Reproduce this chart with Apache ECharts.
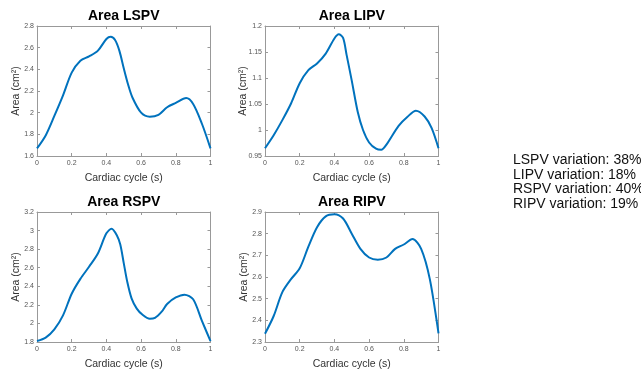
<!DOCTYPE html>
<html>
<head>
<meta charset="utf-8">
<script src="https://cdn.jsdelivr.net/npm/echarts@6/dist/echarts.min.js"></script>
<style>html,body{margin:0;padding:0;background:#fff;}#c{width:641px;height:371px;}</style>
</head>
<body>
<div id="c"></div>
<script>
// ---- data ----
const titles = ['Area LSPV', 'Area LIPV', 'Area RSPV', 'Area RIPV'];
const xLSPV = [0,0.05,0.1,0.15,0.2,0.25,0.3,0.35,0.4,0.425,0.45,0.475,0.5,0.525,0.55,0.6,0.65,0.7,0.75,0.8,0.86,0.9,0.95,1];
const yLSPV = [1.67,1.79,1.97,2.16,2.37,2.48,2.52,2.57,2.68,2.70,2.67,2.57,2.41,2.26,2.14,2.00,1.963,1.98,2.05,2.09,2.135,2.08,1.90,1.67];
const xLIPV = [0,0.05,0.1,0.15,0.2,0.25,0.3,0.35,0.4,0.425,0.45,0.47,0.5,0.535,0.565,0.6,0.64,0.67,0.7,0.77,0.82,0.87,0.92,0.96,1];
const yLIPV = [0.965,0.990,1.019,1.051,1.09,1.115,1.128,1.147,1.176,1.184,1.177,1.145,1.095,1.034,1.0,0.976,0.964,0.962,0.972,1.008,1.025,1.037,1.026,1.004,0.965];
const xRSPV = [0,0.05,0.1,0.15,0.2,0.25,0.3,0.35,0.4,0.43,0.46,0.48,0.5,0.52,0.545,0.575,0.61,0.65,0.68,0.72,0.75,0.8,0.85,0.9,0.95,1];
const yRSPV = [1.81,1.847,1.936,2.087,2.32,2.48,2.61,2.75,2.97,3.02,2.95,2.85,2.65,2.45,2.27,2.16,2.09,2.05,2.06,2.13,2.21,2.28,2.31,2.26,2.03,1.81];
const xRIPV = [0,0.05,0.1,0.15,0.2,0.25,0.3,0.35,0.4,0.45,0.5,0.55,0.6,0.65,0.7,0.75,0.8,0.85,0.9,0.95,1];
const yRIPV = [2.338,2.42,2.53,2.59,2.64,2.74,2.83,2.88,2.89,2.87,2.80,2.73,2.69,2.68,2.69,2.73,2.75,2.775,2.73,2.59,2.34];
const yMin = [1.6, 0.95, 1.8, 2.3];
const yMax = [2.8, 1.2, 3.2, 2.9];
const yStep = [0.2, 0.05, 0.2, 0.1];
const xTicks = [0, 1, 0.2];
const xName = 'Cardiac cycle (s)';
const yName = 'Area (cm²)';
const notes = ['LSPV variation: 38%', 'LIPV variation: 18%', 'RSPV variation: 40%', 'RIPV variation: 19%'];

const xsAll = [xLSPV, xLIPV, xRSPV, xRIPV];
const ysAll = [yLSPV, yLIPV, yRSPV, yRIPV];

// ---- layout ----
const FONT = "'Liberation Sans', Arial, Helvetica, sans-serif";
const boxes = [
  {left: 37, top: 26, width: 173.5, height: 130, yGap: 15},
  {left: 265, top: 26, width: 173.5, height: 130, yGap: 16.5},
  {left: 37, top: 212, width: 173.5, height: 130, yGap: 15},
  {left: 265, top: 212, width: 173.5, height: 130, yGap: 15.5}
];
const axisCol = '#999999';
const lblCol = '#555555';

const grid = [], xAxis = [], yAxis = [], series = [], graphic = [];
boxes.forEach((b, i) => {
  grid.push({left: b.left, top: b.top, width: b.width, height: b.height, containLabel: false});
  const common = {
    axisLine: {show: true, onZero: false, lineStyle: {color: axisCol, width: 1}},
    axisTick: {show: true, inside: true, length: 3, lineStyle: {color: axisCol}},
    splitLine: {show: false}
  };
  xAxis.push(Object.assign({}, common, {
    type: 'value', gridIndex: i, position: 'bottom', min: xTicks[0], max: xTicks[1], interval: xTicks[2],
    axisLabel: {show: true, color: lblCol, fontSize: 7, fontFamily: FONT, margin: 4},
    name: xName, nameLocation: 'middle', nameGap: 16.5, nameMoveOverlap: false,
    nameTextStyle: {color: '#333', fontSize: 10.5, fontFamily: FONT}
  }));
  xAxis.push(Object.assign({}, common, {
    type: 'value', gridIndex: i, position: 'top', min: xTicks[0], max: xTicks[1], interval: xTicks[2],
    axisLabel: {show: false}
  }));
  yAxis.push(Object.assign({}, common, {
    type: 'value', gridIndex: i, position: 'left', min: yMin[i], max: yMax[i], interval: yStep[i],
    axisLabel: {show: true, color: lblCol, fontSize: 7, fontFamily: FONT, margin: 3},
    name: yName, nameLocation: 'middle', nameGap: b.yGap, nameMoveOverlap: false,
    nameTextStyle: {color: '#333', fontSize: 10.5, fontFamily: FONT}
  }));
  yAxis.push(Object.assign({}, common, {
    type: 'value', gridIndex: i, position: 'right', min: yMin[i], max: yMax[i], interval: yStep[i],
    axisLabel: {show: false}
  }));
  series.push({
    type: 'line', xAxisIndex: 2 * i, yAxisIndex: 2 * i,
    data: xsAll[i].map((x, k) => [x, ysAll[i][k]]),
    smooth: 0.3, showSymbol: false, symbol: 'none',
    lineStyle: {color: '#0072BD', width: 2}, silent: true, animation: false
  });
  graphic.push({
    type: 'text', x: b.left + b.width / 2, y: b.top - 10,
    style: {text: titles[i], font: 'bold 14px ' + FONT, fill: '#000',
      textAlign: 'center', textVerticalAlign: 'middle', align: 'center', verticalAlign: 'middle'}
  });
});
notes.forEach((t, k) => {
  graphic.push({
    type: 'text', x: 513, y: 160 + k * 14.8,
    style: {text: t, font: '14px ' + FONT, fill: '#111',
      textAlign: 'left', textVerticalAlign: 'middle', align: 'left', verticalAlign: 'middle'}
  });
});

const chart = echarts.init(document.getElementById('c'), null, {renderer: 'canvas'});
chart.setOption({animation: false, grid, xAxis, yAxis, series, graphic});
</script>
</body>
</html>
